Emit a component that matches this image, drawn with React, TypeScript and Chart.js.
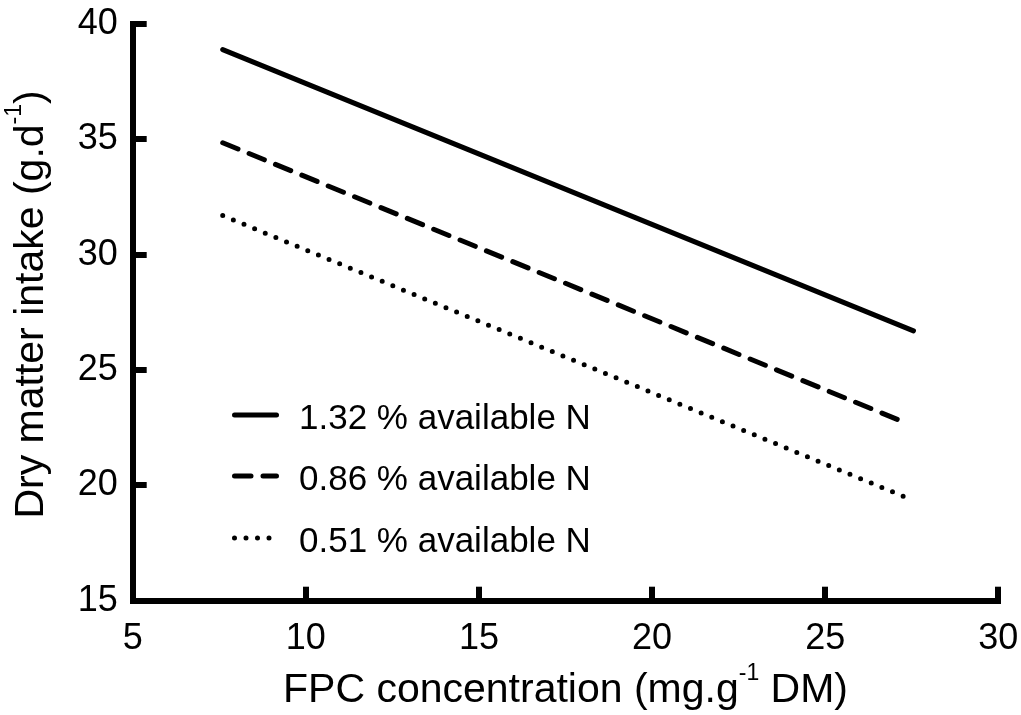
import React, { useEffect, useRef } from "react";
import { Chart, registerables } from "chart.js";

Chart.register(...registerables);

// ---- data ----
const xTickValues = [5, 10, 15, 20, 25, 30];
const yTickValues = [15, 20, 25, 30, 35, 40];
const seriesLabels = ["1.32 % available N", "0.86 % available N", "0.51 % available N"];
const highNX = [7.6, 27.55];
const highNY = [38.9, 26.7];
const midNX = [7.6, 27.3];
const midNY = [34.86, 22.73];
const lowNX = [7.6, 27.3];
const lowNY = [31.7, 19.5];
const xTitleParts = ["FPC concentration (mg.g", "-1", " DM)"];
const yTitleParts = ["Dry matter intake (g.d", "-1", ")"];

const FONT = "'Liberation Sans', Arial, Helvetica, sans-serif";

function toPoints(xs: number[], ys: number[]) {
  return xs.map((x, i) => ({ x, y: ys[i] }));
}

function drawSupText(ctx: CanvasRenderingContext2D, parts: string[], cx: number, baseY: number) {
  const main = `41px ${FONT}`;
  const sup = `23px ${FONT}`;
  const widths = parts.map((p, i) => {
    ctx.font = i === 1 ? sup : main;
    return ctx.measureText(p).width;
  });
  const total = widths.reduce((a, b) => a + b, 0);
  let x = cx - total / 2;
  ctx.textAlign = "left";
  ctx.textBaseline = "alphabetic";
  ctx.fillStyle = "#000";
  parts.forEach((p, i) => {
    ctx.font = i === 1 ? sup : main;
    ctx.fillText(p, x, i === 1 ? baseY - 22 : baseY);
    x += widths[i];
  });
}

const decorPlugin = {
  id: "decor",
  afterDraw(chart: any) {
    const ctx: CanvasRenderingContext2D = chart.ctx;
    const area = chart.chartArea;
    ctx.save();
    // axis titles
    drawSupText(ctx, xTitleParts, (area.left + area.right) / 2, 702);
    ctx.save();
    ctx.translate(43, (area.top + area.bottom) / 2 - 8);
    ctx.rotate(-Math.PI / 2);
    drawSupText(ctx, yTitleParts, 0, 0);
    ctx.restore();

    // legend
    const rows = [415, 476, 538];
    chart.data.datasets.forEach((ds: any, i: number) => {
      const y = rows[i];
      ctx.beginPath();
      ctx.setLineDash(ds.borderDash || []);
      ctx.lineDashOffset = 0;
      ctx.lineCap = "round";
      ctx.lineWidth = ds.borderWidth;
      ctx.strokeStyle = ds.borderColor;
      ctx.moveTo(234.5, y);
      ctx.lineTo(276.5, y);
      ctx.stroke();
      ctx.setLineDash([]);
      ctx.font = `35px ${FONT}`;
      ctx.fillStyle = "#000";
      ctx.textAlign = "left";
      ctx.textBaseline = "alphabetic";
      ctx.fillText(ds.label, 299, y + 14);
    });
    ctx.restore();
  },
};

function zeroPadding(s: any) {
  s.paddingTop = 0;
  s.paddingBottom = 0;
  s.paddingLeft = 0;
  s.paddingRight = 0;
}

export default function App() {
  const ref = useRef<HTMLCanvasElement | null>(null);

  useEffect(() => {
    document.body.style.margin = "0";
    const canvas = ref.current;
    if (!canvas) return;
    const tickFont = { family: FONT, size: 36 };
    const chart = new Chart(canvas, {
      type: "line",
      data: {
        datasets: [
          {
            label: seriesLabels[0],
            data: toPoints(highNX, highNY),
            borderColor: "#000",
            borderWidth: 5,
            borderCapStyle: "round",
            pointRadius: 0,
            fill: false,
          },
          {
            label: seriesLabels[1],
            data: toPoints(midNX, midNY),
            borderColor: "#000",
            borderWidth: 5,
            borderDash: [16.5, 12],
            borderCapStyle: "round",
            pointRadius: 0,
            fill: false,
          },
          {
            label: seriesLabels[2],
            data: toPoints(lowNX, lowNY),
            borderColor: "#000",
            borderWidth: 5,
            borderDash: [0, 11.5],
            borderCapStyle: "round",
            pointRadius: 0,
            fill: false,
          },
        ] as any,
      },
      options: {
        animation: false,
        responsive: false,
        devicePixelRatio: 1,
        layout: { padding: { top: 24.2, right: 22.7, left: 0, bottom: 0 } },
        plugins: { legend: { display: false }, tooltip: { enabled: false } },
        scales: {
          x: {
            type: "linear",
            min: 5,
            max: 30,
            afterBuildTicks: (s: any) => {
              s.ticks = xTickValues.map((v) => ({ value: v }));
            },
            afterFit: (s: any) => {
              s.height = 114.3;
              zeroPadding(s);
            },
            ticks: { font: tickFont, color: "#000", padding: 31, maxRotation: 0 },
            grid: {
              display: true,
              drawOnChartArea: false,
              drawTicks: true,
              tickLength: -14,
              lineWidth: 6,
              color: "#000",
            },
            border: { display: true, width: 6, color: "#000" },
          },
          y: {
            type: "linear",
            min: 15,
            max: 40,
            afterBuildTicks: (s: any) => {
              s.ticks = yTickValues.map((v) => ({ value: v }));
            },
            afterFit: (s: any) => {
              s.width = 132.7;
              zeroPadding(s);
            },
            ticks: { font: tickFont, color: "#000", padding: 29 },
            grid: {
              display: true,
              drawOnChartArea: false,
              drawTicks: true,
              tickLength: -14,
              lineWidth: 6,
              color: "#000",
            },
            border: { display: true, width: 6, color: "#000" },
          },
        },
      } as any,
      plugins: [decorPlugin],
    });
    return () => chart.destroy();
  }, []);

  return (
    <div style={{ position: "fixed", left: 0, top: 0, width: 1021, height: 715, background: "#fff" }}>
      <canvas ref={ref} width={1021} height={715} />
    </div>
  );
}
